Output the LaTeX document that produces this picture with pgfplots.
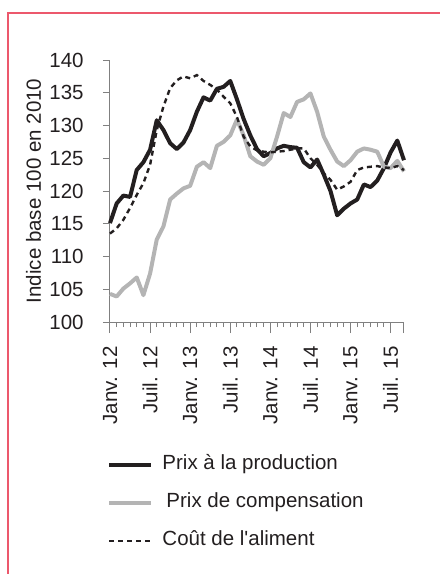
\documentclass[border=0pt]{standalone}
\usepackage{fontspec}
\setmainfont{Liberation Sans}
\usepackage{pgfplots}
\pgfplotsset{compat=1.18}
\definecolor{framepink}{RGB}{236,88,108}
\definecolor{txt}{RGB}{35,31,32}
\definecolor{compgray}{RGB}{180,180,180}
\definecolor{axgray}{RGB}{128,128,128}

% prix a la production, prix de compensation, cout de l'aliment (base 100 en 2010)
\pgfplotstableread{
m  prod   comp   alim
0  115.1  104.3  113.5
1  118.1  103.9  114.3
2  119.3  105.1  115.6
3  119.1  105.9  117.4
4  123.2  106.8  119.4
5  124.4  104.1  121.2
6  126.3  107.4  124.0
7  130.8  112.6  129.3
8  129.3  114.6  132.9
9  127.3  118.7  135.7
10 126.4  119.6  136.9
11 127.4  120.4  137.5
12 129.3  120.8  137.2
13 132.1  123.7  137.7
14 134.3  124.4  136.8
15 133.8  123.5  136.2
16 135.6  126.9  135.5
17 135.9  127.5  134.4
18 136.8  128.5  133.4
19 134.0  130.9  131.3
20 131.0  128.5  128.3
21 128.5  125.3  126.8
22 126.4  124.5  126.2
23 125.3  124.0  126.0
24 125.8  125.0  125.9
25 126.5  128.3  126.0
26 126.9  131.9  126.1
27 126.7  131.3  126.3
28 126.6  133.6  126.5
29 124.4  134.0  126.5
30 123.6  134.9  125.0
31 124.8  132.1  124.0
32 122.5  128.3  122.7
33 120.0  126.3  121.7
34 116.3  124.5  120.2
35 117.3  123.8  120.7
36 118.1  124.7  121.4
37 118.7  126.0  123.2
38 121.0  126.5  123.6
39 120.6  126.3  123.7
40 121.6  126.0  123.8
41 123.5  123.7  123.6
42 125.9  123.5  123.5
43 127.7  124.6  123.8
44 124.7  123.0  123.2
}\data

\begin{document}
\begin{tikzpicture}[font=\fontsize{10.25}{12}\selectfont, text=txt]
\useasboundingbox (-55pt,-126pt) rectangle (165pt,161pt);
\begin{axis}[
    at={(0,0)}, anchor=south west,
    scale only axis,
    width=147pt, height=131pt,
    xmin=0, xmax=44, ymin=100, ymax=140,
    axis lines*=left,
    axis line style={-, draw=axgray, line width=0.5pt},
    tick style={draw=axgray, line width=0.5pt},
    tick align=outside,
    major tick length=5.5pt,
    minor tick length=2.5pt,
    ytick={100,105,...,140},
    ytick style={/pgfplots/major tick length=3.5pt},
    xtick={0,6,...,42},
    extra x ticks={44},
    extra x tick labels={},
    minor x tick num=5,
    xticklabels={Janv. 12,Juil. 12,Janv. 13,Juil. 13,Janv. 14,Juil. 14,Janv. 15,Juil. 15},
    xticklabel style={rotate=90, anchor=east, inner sep=0pt},
    xticklabel shift=6.5pt,
    yticklabel style={anchor=east, inner sep=0pt},
    yticklabel shift=7.5pt,
    /pgf/number format/assume math mode=true,
    ylabel={Indice base 100 en 2010},
    ylabel style={at={(axis description cs:-0.26,0.5)}, anchor=center, rotate=0},
    clip=false,
    legend cell align=left,
    legend style={draw=none, fill=none, at={(axis description cs:-0.01,-0.505)}, anchor=north west,
        inner sep=0pt, row sep=9pt, column sep=4.5pt,
        nodes={inner sep=0pt, text height=7.5pt, text depth=2.5pt}},
    legend image code/.code={\draw[#1] (0pt,0pt) -- (21pt,0pt);},
]
\addplot[draw=txt, line width=2pt, line join=round] table[x=m, y=prod] {\data};
\addlegendentry{Prix à la production}
\addplot[draw=compgray, line width=2pt, line join=round] table[x=m, y=comp] {\data};
\addlegendentry{\hspace*{2pt}Prix de compensation}
\addplot[draw=txt, line width=1.2pt, dash pattern=on 2.5pt off 2pt] table[x=m, y=alim] {\data};
\addlegendentry{Coût de l\textquotesingle aliment}
\end{axis}
\draw[framepink, line width=0.75pt] (-51pt,-126pt) -- (-51pt,154.5pt) -- (165pt,154.5pt);
\end{tikzpicture}
\end{document}
